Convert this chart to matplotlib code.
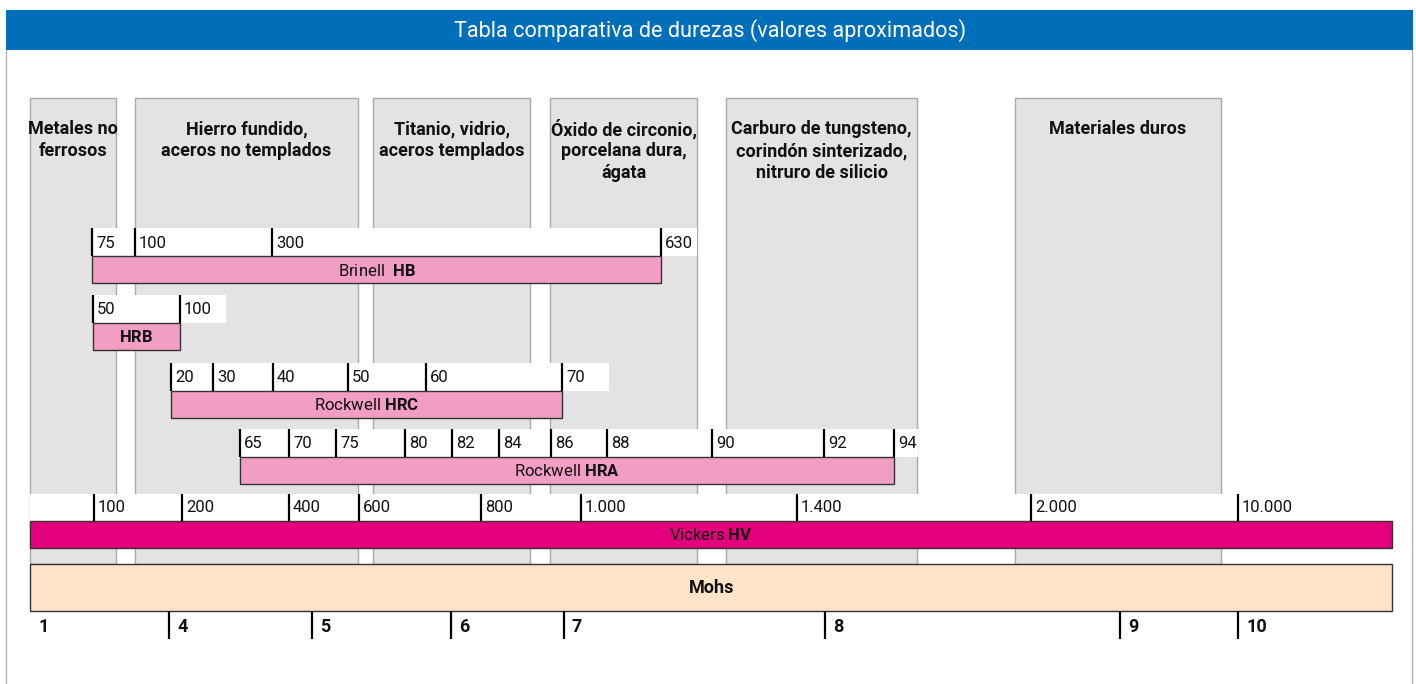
import matplotlib
matplotlib.use('Agg')
import matplotlib.pyplot as plt
from matplotlib.patches import Rectangle

plt.rcParams['font.family'] = ['Roboto', 'DejaVu Sans']
plt.rcParams['mathtext.fontset'] = 'custom'
plt.rcParams['mathtext.rm'] = 'Roboto'
plt.rcParams['mathtext.bf'] = 'Roboto:bold'

W, H = 1416, 684
TITLE = 'Tabla comparativa de durezas (valores aproximados)'

# material groups shown as grey columns
groups = ['Metales no\nferrosos',
          'Hierro fundido,\naceros no templados',
          'Titanio, vidrio,\naceros templados',
          'Óxido de circonio,\nporcelana dura,\nágata',
          'Carburo de tungsteno,\ncorindón sinterizado,\nnitruro de silicio',
          'Materiales duros']
group_left = [30, 135, 373, 550, 726, 1015]
group_right = [116, 358, 530, 697, 917, 1221]

# hardness scales: tick labels and where they sit on the shared axis
brinell_labels = ['75', '100', '300', '630']
brinell_pos = [92, 135, 272, 661]
hrb_labels = ['50', '100']
hrb_pos = [93, 180]
hrc_labels = ['20', '30', '40', '50', '60', '70']
hrc_pos = [171, 213, 273, 348, 426, 562]
hra_labels = ['65', '70', '75', '80', '82', '84', '86', '88', '90', '92', '94']
hra_pos = [240, 289, 336, 405, 452, 499, 551, 607, 712, 824, 894]
vickers_labels = ['100', '200', '400', '600', '800', '1.000', '1.400', '2.000', '10.000']
vickers_pos = [94, 182, 289, 359, 481, 581, 797, 1031, 1238]
mohs_labels = ['1', '4', '5', '6', '7', '8', '9', '10']
mohs_pos = [30, 169, 312, 451, 564, 825, 1120, 1238]

PINK = '#F29EC4'
MAGENTA = '#E4007C'
PEACH = '#FDE4C8'
GREY = '#E3E3E3'
EDGE = '#333333'

fig = plt.figure(figsize=(W / 100, H / 100), dpi=100)
ax = fig.add_axes([0, 0, 1, 1])
ax.set_xlim(0, W)
ax.set_ylim(H, 0)
ax.axis('off')

# frame + title bar
ax.plot([6, 6], [50, H], color='#B5B5B5', lw=1, zorder=1)
ax.plot([1412, 1412], [50, H], color='#B5B5B5', lw=1, zorder=1)
ax.add_patch(Rectangle((6, 10), 1407, 40, facecolor='#006EB8', edgecolor='none', zorder=2))
ax.text(710, 31, TITLE, color='white', fontsize=15.6, ha='center', va='center', zorder=3)

# grey group columns
for name, x0, x1 in zip(groups, group_left, group_right):
    ax.add_patch(Rectangle((x0, 98), x1 - x0, 564 - 98, facecolor=GREY,
                           edgecolor='#AAAAAA', lw=1, zorder=1))
    for i, line in enumerate(name.split('\n')):
        ax.text((x0 + x1) / 2, 129 + i * 22, line, fontsize=13, fontweight='bold',
                ha='center', va='center', color='#111111', zorder=3)


def scale_bar(labels, pos, top, label, ext, color=PINK):
    row_h, bar_h = 28, 27
    x0, x1 = pos[0], pos[-1]
    ax.add_patch(Rectangle((x0, top), x1 + ext - x0, row_h, facecolor='white',
                           edgecolor='none', zorder=4))
    ax.add_patch(Rectangle((x0, top + row_h), x1 - x0, bar_h, facecolor=color,
                           edgecolor=EDGE, lw=1, zorder=5))
    for lab, x in zip(labels, pos):
        ax.plot([x, x], [top, top + row_h], color='black', lw=1.6,
                solid_capstyle='butt', zorder=6)
        ax.text(x + 4, top + row_h / 2 + 1, lab, fontsize=12, ha='left',
                va='center', color='#111111', zorder=6)
    ax.text((x0 + x1) / 2, top + row_h + bar_h / 2 + 1, label, fontsize=12,
            ha='center', va='center', color='#111111', zorder=6)


scale_bar(brinell_labels, brinell_pos, 228, r'Brinell  $\mathbf{HB}$', 36)
scale_bar(hrb_labels, hrb_pos, 295, r'$\mathbf{HRB}$', 46)
scale_bar(hrc_labels, hrc_pos, 363, r'Rockwell $\mathbf{HRC}$', 47)
scale_bar(hra_labels, hra_pos, 429, r'Rockwell $\mathbf{HRA}$', 24)

# Vickers spans the whole width
ax.add_patch(Rectangle((30, 494), 1362, 27, facecolor='white', edgecolor='none', zorder=4))
ax.add_patch(Rectangle((30, 521), 1362, 27, facecolor=MAGENTA, edgecolor=EDGE, lw=1, zorder=5))
for lab, x in zip(vickers_labels, vickers_pos):
    ax.plot([x, x], [494, 521], color='black', lw=1.6, solid_capstyle='butt', zorder=6)
    ax.text(x + 4, 508, lab, fontsize=12, ha='left', va='center', color='#111111', zorder=6)
ax.text(711, 535, r'Vickers $\mathbf{HV}$', fontsize=12, ha='center', va='center',
        color='#111111', zorder=6)

# Mohs
ax.add_patch(Rectangle((30, 564), 1362, 47, facecolor=PEACH, edgecolor=EDGE, lw=1, zorder=5))
ax.text(712, 588, 'Mohs', fontsize=13, fontweight='bold', ha='center', va='center',
        color='#111111', zorder=6)
for lab, x in zip(mohs_labels, mohs_pos):
    if x > 30:
        ax.plot([x, x], [611, 639], color='black', lw=1.6, solid_capstyle='butt', zorder=6)
    ax.text(x + 8, 627, lab, fontsize=13, fontweight='bold', ha='left', va='center',
            color='#111111', zorder=6)

fig.savefig('out.png', dpi=100)
